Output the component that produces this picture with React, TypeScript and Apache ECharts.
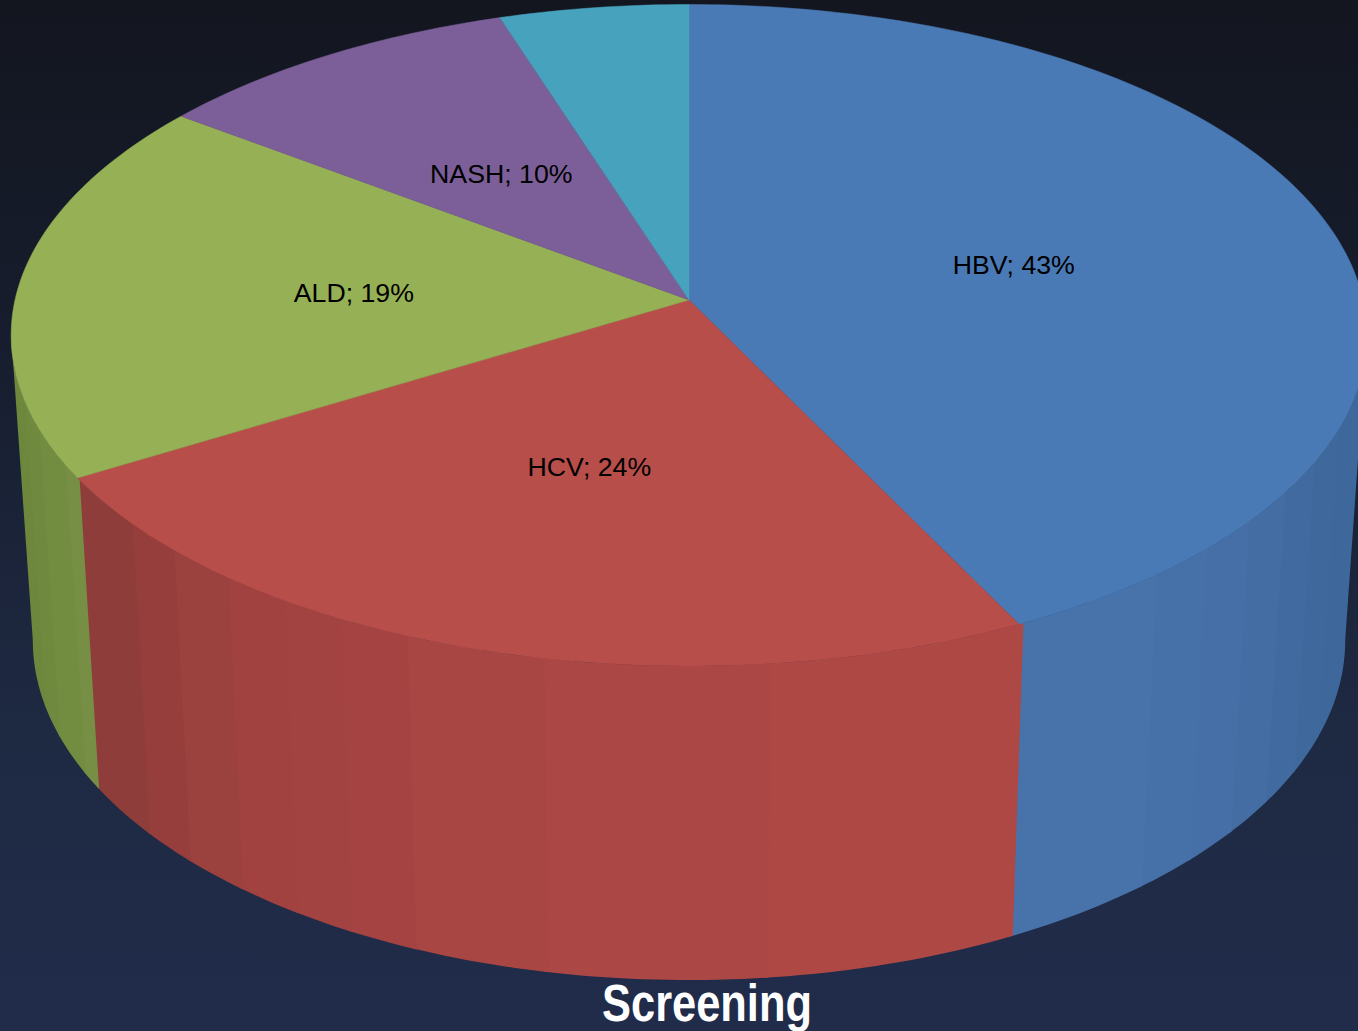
import React, { useEffect, useRef } from "react";
import * as echarts from "echarts";

const categories = ["HBV", "HCV", "ALD", "NASH", ""];
const shares = [42.7, 23.7, 18.8, 9.8, 5.0];
const labelPercents = [43, 24, 19, 10, null];
const topColors = ["#4a7ab5", "#b84e4a", "#96b055", "#7c5f99", "#47a3bd"];

// Shaded facets on the rim: angle (degrees clockwise from the far point) where each band ends.
const hbvRimEdges = [112.5, 118.5, 124, 129.5, 135, 140.8, 180];
const hbvRimColors = ["#3e679b", "#3f699d", "#416ba0", "#436da3", "#456fa6", "#4671a8", "#4773aa"];
const hcvRimEdges = [174.2, 191.5, 202.5, 208.3, 213.5, 219.2, 225.3, 230.7, 240];
const hcvRimColors = ["#ad4845", "#ab4745", "#a84644", "#a44341", "#a24341", "#a14240", "#9b423f", "#963e3c", "#8f3d3a"];
const aldRimEdges = [241.7, 248, 253, 280];
const aldRimColors = ["#778f45", "#728c40", "#6f893e", "#6d873d"];
const rimBands = [
  { edges: hbvRimEdges, colors: hbvRimColors },
  { edges: hcvRimEdges, colors: hcvRimColors },
  { edges: aldRimEdges, colors: aldRimColors },
];

const WIDTH = 1358;
const HEIGHT = 1031;
const TILT = 0.1065;
const TOP_PLANE = { cx: 689, cy: 300, a: 674, b: 327 };
const BOTTOM_PLANE = { cx: 689, cy: 604, a: 652.5, b: 336 };
const RIM_FROM = 96;
const RIM_TO = 264;
const SEAM_OVERLAP = 0.4;

type Plane = typeof TOP_PLANE;

const project = (plane: Plane, deg: number, r = 1): number[] => {
  const t = (deg * Math.PI) / 180;
  const w = 1 + TILT * r * Math.cos(t);
  return [plane.cx + (plane.a * r * Math.sin(t)) / w, plane.cy - (plane.b * r * Math.cos(t)) / w];
};

const arc = (plane: Plane, from: number, to: number): number[][] => {
  const pts: number[][] = [];
  const n = Math.max(1, Math.ceil(Math.abs(to - from)));
  for (let i = 0; i <= n; i++) pts.push(project(plane, from + ((to - from) * i) / n));
  return pts;
};

const sliceAngles = (() => {
  const total = shares.reduce((s, v) => s + v, 0);
  let acc = 0;
  return shares.map((v) => {
    const start = (acc / total) * 360;
    acc += v;
    return [start, (acc / total) * 360];
  });
})();

const rimFacets = (() => {
  const out: { from: number; to: number; color: string }[] = [];
  rimBands.forEach((band, i) => {
    const [s, e] = sliceAngles[i];
    let prev = s;
    band.edges.forEach((edge, j) => {
      const from = Math.max(prev, s, RIM_FROM);
      const to = Math.min(edge, e, RIM_TO);
      if (to > from) out.push({ from, to, color: band.colors[j] });
      prev = Math.max(prev, edge);
    });
  });
  return out;
})();

export default function App() {
  const ref = useRef<HTMLDivElement>(null);
  useEffect(() => {
    const chart = echarts.init(ref.current!, null, { renderer: "svg" });
    chart.setOption({
      animation: false,
      backgroundColor: new echarts.graphic.LinearGradient(0, 0, 0, 1, [
        { offset: 0, color: "#13161f" },
        { offset: 0.33, color: "#171d2e" },
        { offset: 0.7, color: "#1e2942" },
        { offset: 1, color: "#212c4b" },
      ]),
      graphic: [
        {
          type: "text",
          x: 707,
          y: 1003,
          scaleX: 0.835,
          z: 10,
          style: {
            text: "Screening",
            fill: "#ffffff",
            font: "bold 52px 'Liberation Sans', Arial, sans-serif",
            align: "center",
            verticalAlign: "middle",
          },
        },
      ],
      series: [
        {
          type: "custom",
          coordinateSystem: "none",
          silent: true,
          z: 1,
          data: rimFacets.map((f) => [f.from, f.to]),
          renderItem: (params: any) => {
            const f = rimFacets[params.dataIndex];
            const from = Math.max(RIM_FROM, f.from - SEAM_OVERLAP);
            const upper = arc(TOP_PLANE, from, f.to);
            const lower = arc(BOTTOM_PLANE, f.to, from);
            return {
              type: "polygon",
              shape: { points: upper.concat(lower) },
              style: { fill: f.color },
            };
          },
        },
        {
          type: "custom",
          coordinateSystem: "none",
          silent: true,
          z: 2,
          data: shares.map((v, i) => [v, i]),
          renderItem: (params: any) => {
            const [s, e] = sliceAngles[params.dataIndex];
            const color = topColors[params.dataIndex];
            return {
              type: "polygon",
              shape: { points: [[TOP_PLANE.cx, TOP_PLANE.cy]].concat(arc(TOP_PLANE, s, e)) },
              style: { fill: color, stroke: color, lineWidth: 0.5 },
            };
          },
        },
        {
          type: "custom",
          coordinateSystem: "none",
          silent: true,
          z: 3,
          data: shares.map((v, i) => [v, i]),
          renderItem: (params: any) => {
            const i = params.dataIndex;
            if (!categories[i]) return null;
            const [s, e] = sliceAngles[i];
            const [x, y] = project(TOP_PLANE, (s + e) / 2, 0.5);
            return {
              type: "text",
              style: {
                x: x + 0.5,
                y: y + 1.5,
                text: `${categories[i]}; ${labelPercents[i]}%`,
                fill: "#000000",
                font: "26.7px 'Liberation Sans', Arial, sans-serif",
                align: "center",
                verticalAlign: "middle",
              },
            };
          },
        },
      ],
    });
    return () => chart.dispose();
  }, []);
  return (
    <div
      ref={ref}
      style={{ position: "fixed", left: 0, top: 0, width: WIDTH, height: HEIGHT }}
    />
  );
}
